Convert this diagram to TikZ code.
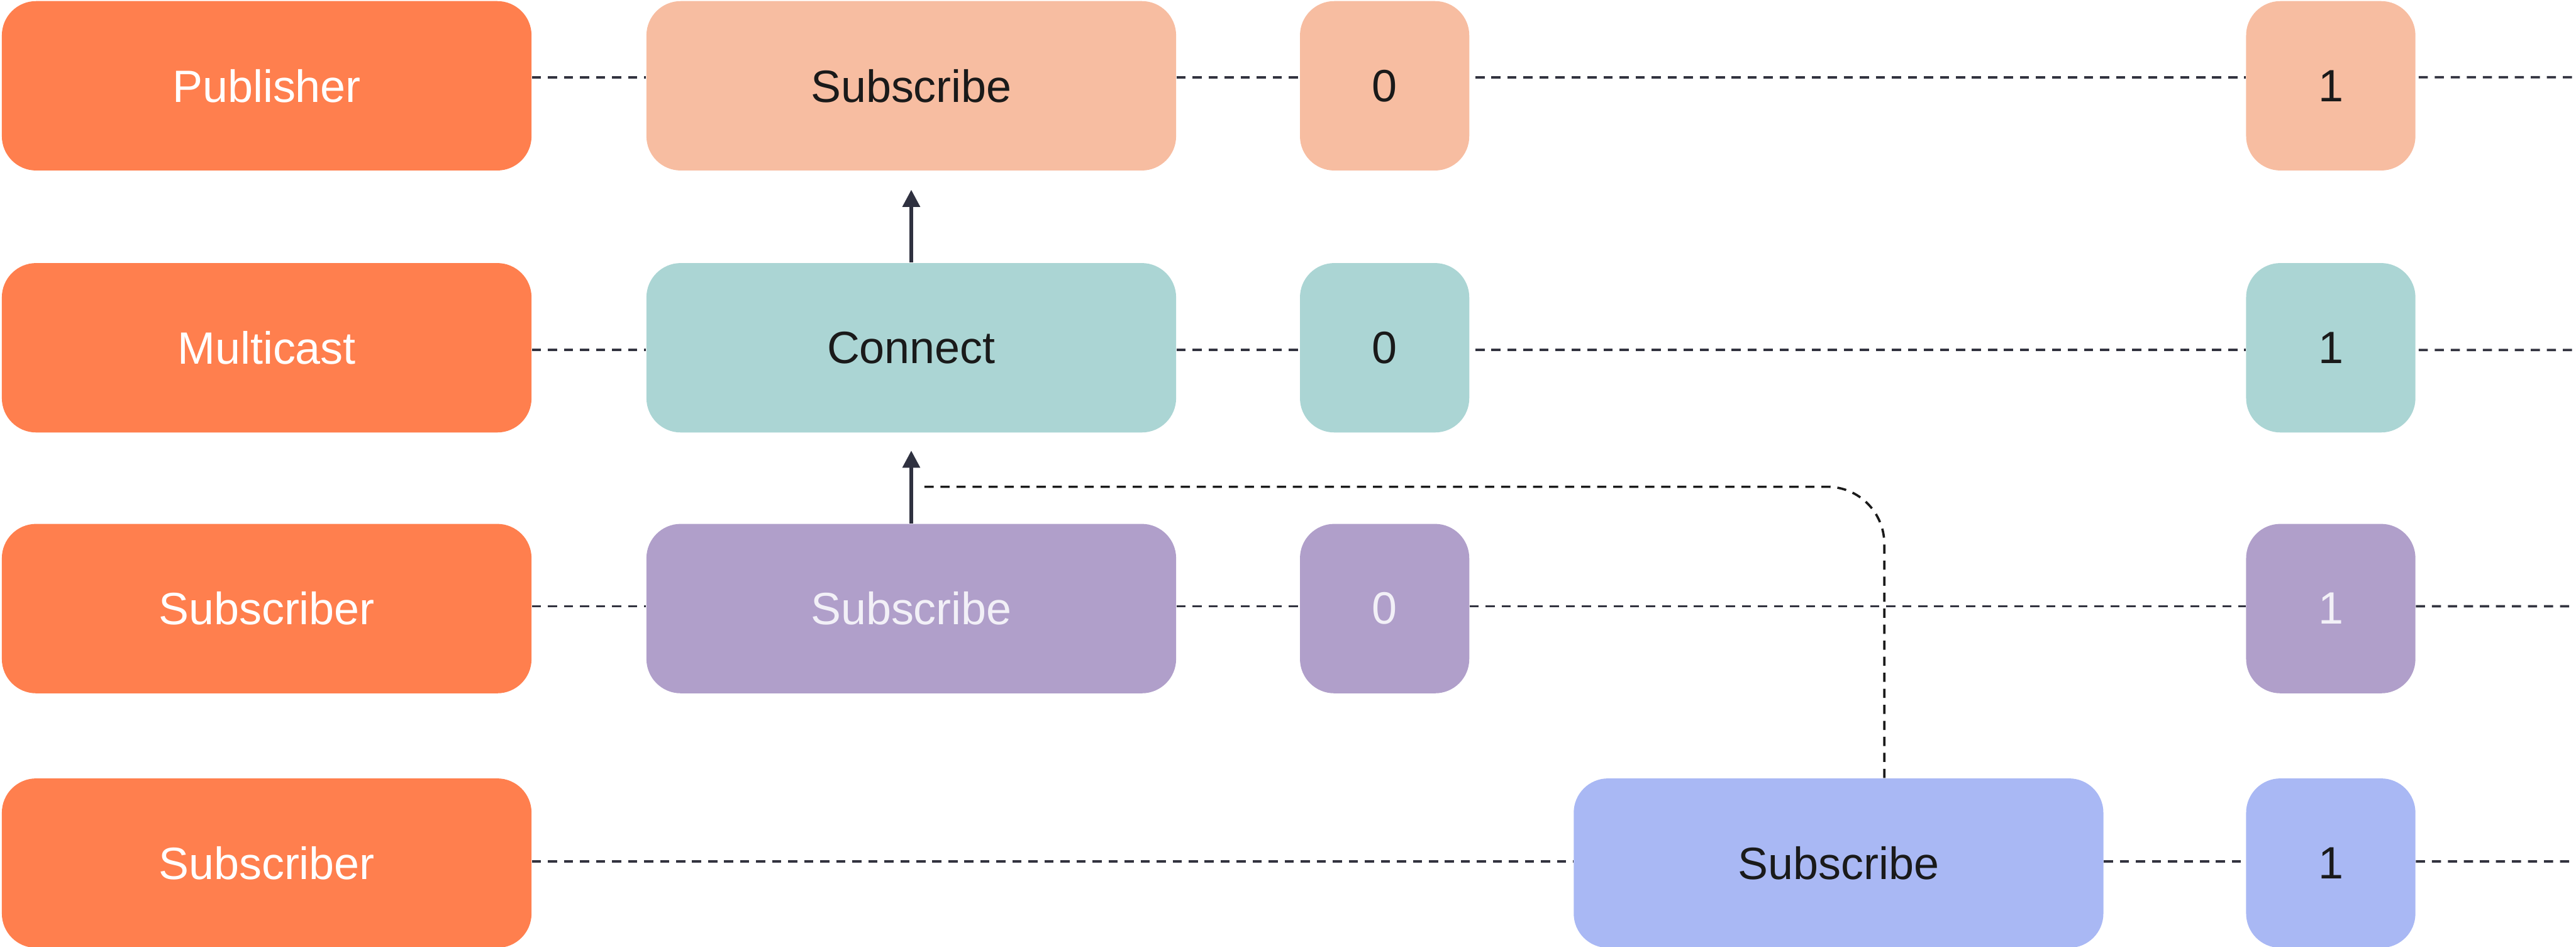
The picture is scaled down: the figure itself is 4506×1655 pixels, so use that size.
\documentclass[tikz,border=0pt]{standalone}
\usepackage{fontspec}
\setmainfont{Liberation Sans}
\usetikzlibrary{arrows.meta}
\definecolor{corange}{HTML}{FF7F4E}
\definecolor{cpeach}{HTML}{F7BDA1}
\definecolor{cteal}{HTML}{ABD5D4}
\definecolor{cpurple}{HTML}{B09FCA}
\definecolor{cblue}{HTML}{A9B8F4}
\definecolor{ctext}{HTML}{1A1A1A}
\definecolor{clight}{HTML}{F2F0F7}
\definecolor{dcol}{HTML}{32333F}
\definecolor{acol}{HTML}{2F3140}
\definecolor{kcol}{HTML}{1A1A1A}
\begin{document}
\begin{tikzpicture}[x=0.01cm,y=-0.01cm,
  box/.style={rectangle, rounded corners=0.6cm, inner sep=0pt, minimum height=2.96cm,
              font=\fontsize{22.5}{27}\selectfont, text=ctext},
  wide/.style={box, minimum width=9.26cm},
  sq/.style={box, minimum width=2.96cm},
  role/.style={wide, fill=corange, text=white},
  dline/.style={draw=dcol, line width=0.04cm, dash pattern=on 0.16cm off 0.12cm},
  kline/.style={draw=kcol, line width=0.04cm, dash pattern=on 0.16cm off 0.12cm},
  arr/.style={draw=acol, line width=0.06cm, -{Triangle[length=0.3cm,width=0.3cm]}}]
\useasboundingbox (0,0) rectangle (4506,1655);

% left column
\node[role] (pub) at (466.5,150) {Publisher};
\node[role] (mc)  at (466.5,608) {Multicast};
\node[role] (sb1) at (466.5,1064) {Subscriber};
\node[role] (sb2) at (466.5,1509) {Subscriber};

% row 1
\node[wide, fill=cpeach] (s1) at (1594,150) {Subscribe};
\node[sq, fill=cpeach] (z1) at (2422,150) {0};
\node[sq, fill=cpeach] (o1) at (4077,150) {1};
% row 2
\node[wide, fill=cteal] (conn) at (1594,608) {Connect};
\node[sq, fill=cteal] (z2) at (2422,608) {0};
\node[sq, fill=cteal] (o2) at (4077,608) {1};
% row 3
\node[wide, fill=cpurple, text=clight] (s3) at (1594,1064) {Subscribe};
\node[sq, fill=cpurple, text=clight] (z3) at (2422,1064) {0};
\node[sq, fill=cpurple, text=clight] (o3) at (4077,1064) {1};
% row 4
\node[wide, fill=cblue] (s4) at (3216,1509) {Subscribe};
\node[sq, fill=cblue] (o4) at (4077,1509) {1};

% right edge ends
\coordinate (e1) at (4506,135);
\coordinate (e2) at (4506,612);
\coordinate (e3) at (4506,1060);
\coordinate (e4) at (4506,1506);
\coordinate (cend) at (1606,851);

% row 1 dashed
\draw[dline] ([yshift=0.15cm]pub.east) -- ([yshift=0.15cm]s1.west);
\draw[dline] ([yshift=0.15cm]s1.east) -- ([yshift=0.15cm]z1.west);
\draw[dline] ([yshift=0.15cm,xshift=0.1cm]z1.east) -- ([yshift=0.15cm]o1.west);
\draw[dline] ([yshift=0.15cm,xshift=0.05cm]o1.east) -- (e1);
% row 2 dashed
\draw[dline] ([yshift=-0.04cm]mc.east) -- ([yshift=-0.04cm]conn.west);
\draw[dline] ([yshift=-0.04cm]conn.east) -- ([yshift=-0.04cm]z2.west);
\draw[dline] ([yshift=-0.04cm,xshift=0.1cm]z2.east) -- ([yshift=-0.04cm]o2.west);
\draw[dline] ([yshift=-0.04cm,xshift=0.05cm]o2.east) -- (e2);
% row 3 dashed
\draw[dline] ([yshift=0.04cm]sb1.east) -- ([yshift=0.04cm]s3.west);
\draw[dline] ([yshift=0.04cm]s3.east) -- ([yshift=0.04cm]z3.west);
\draw[dline] ([yshift=0.04cm]z3.east) -- ([yshift=0.04cm]o3.west);
\draw[dline] ([yshift=0.04cm]o3.east) -- (e3);
% row 4 dashed
\draw[dline] ([yshift=0.03cm]sb2.east) -- ([yshift=0.03cm]s4.west);
\draw[dline] ([yshift=0.03cm]s4.east) -- ([yshift=0.03cm]o4.west);
\draw[dline] ([yshift=0.03cm]o4.east) -- (e4);

% subscribe request path
\draw[kline, rounded corners=1cm] ([xshift=0.8cm]s4.north) |- (cend);

% arrows
\draw[arr, shorten >=0.33cm] (conn.north) -- (s1.south);
\draw[arr, shorten >=0.31cm] (s3.north) -- (conn.south);
\end{tikzpicture}
\end{document}
